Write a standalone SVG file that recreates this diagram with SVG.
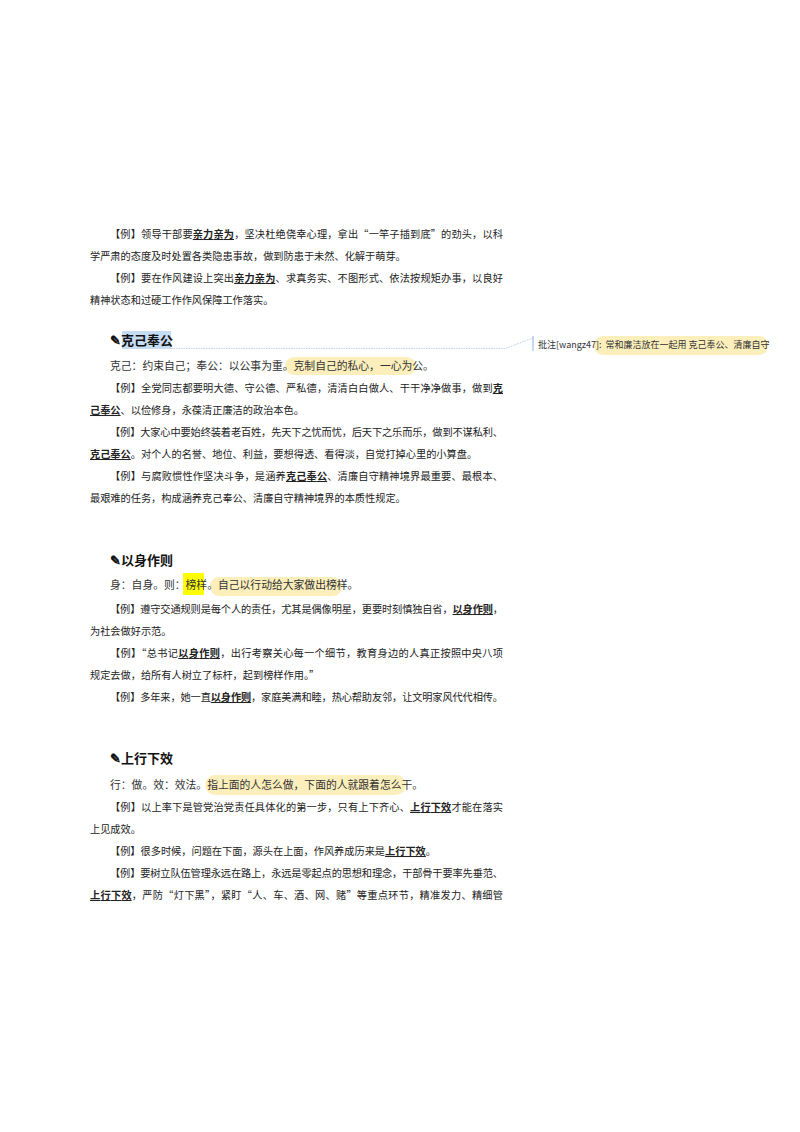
<svg xmlns="http://www.w3.org/2000/svg" width="800" height="1132" viewBox="0 0 800 1132">
<style>
.b{font-family:"Noto Sans CJK SC","Noto Sans CJK JP",sans-serif;font-size:10.2px;fill:#222}
.d{font-family:"Noto Sans CJK SC",sans-serif;font-size:10.8px;fill:#333}
.h{font-family:"Noto Sans CJK SC",sans-serif;font-size:13px;font-weight:bold;fill:#111}
.k{font-weight:bold;text-decoration:underline}
.hl{fill:#fbe9a6;opacity:0.75}
.c{font-family:"Noto Sans CJK SC",sans-serif;font-size:9px;fill:#333}
</style>
<rect width="800" height="1132" fill="#fff"/>
<g id="p1">
<text class="b" x="110" y="238" textLength="393" lengthAdjust="spacing">【例】领导干部要<tspan class="k">亲力亲为</tspan>，坚决杜绝侥幸心理，拿出“一竿子插到底”的劲头，以科</text>
<text class="b" x="90" y="260">学严肃的态度及时处置各类隐患事故，做到防患于未然、化解于萌芽。</text>
<text class="b" x="110" y="282" textLength="393" lengthAdjust="spacing">【例】要在作风建设上突出<tspan class="k">亲力亲为</tspan>、求真务实、不图形式、依法按规矩办事，以良好</text>
<text class="b" x="90" y="304">精神状态和过硬工作作风保障工作落实。</text>
</g>
<g id="s1">
<rect x="122" y="331" width="49" height="18" fill="#c6dcf3"/>
<text class="h" x="110" y="345">✎克己奉公</text>
<path d="M171 348.5 H505 L533 338" fill="none" stroke="#a9c6e6" stroke-width="0.8" stroke-dasharray="1.5,1"/>
<line x1="533" y1="336" x2="533" y2="351" stroke="#8fb2dc" stroke-width="1"/>
<rect class="hl" x="594" y="336" width="174" height="19" rx="9"/>
<text class="c" x="538" y="348">批注[wangz47]: <tspan dx="2">常和廉洁放在一起用 克己奉公、清廉自守</tspan></text>
<rect class="hl" x="285" y="357" width="131" height="18" rx="9"/>
<text class="d" x="110" y="370">克己：约束自己；奉公：以公事为重。克制自己的私心，一心为公。</text>
<text class="b" x="110" y="392" textLength="393" lengthAdjust="spacing">【例】全党同志都要明大德、守公德、严私德，清清白白做人、干干净净做事，做到<tspan class="k">克</tspan></text>
<text class="b" x="90" y="414"><tspan class="k">己奉公</tspan>、以俭修身，永葆清正廉洁的政治本色。</text>
<text class="b" x="110" y="436" textLength="393" lengthAdjust="spacing">【例】大家心中要始终装着老百姓，先天下之忧而忧，后天下之乐而乐，做到不谋私利、</text>
<text class="b" x="90" y="458"><tspan class="k">克己奉公</tspan>。对个人的名誉、地位、利益，要想得透、看得淡，自觉打掉心里的小算盘。</text>
<text class="b" x="110" y="480" textLength="393" lengthAdjust="spacing">【例】与腐败惯性作坚决斗争，是涵养<tspan class="k">克己奉公</tspan>、清廉自守精神境界最重要、最根本、</text>
<text class="b" x="90" y="502">最艰难的任务，构成涵养克己奉公、清廉自守精神境界的本质性规定。</text>
</g>
<g id="s2">
<text class="h" x="110" y="565">✎以身作则</text>
<rect x="183" y="573" width="21" height="22" fill="#ffff00"/>
<rect class="hl" x="210" y="577" width="132" height="19" rx="9"/>
<text class="d" x="110" y="589">身：自身。则：榜样。自己以行动给大家做出榜样。</text>
<text class="b" x="110" y="613" textLength="393" lengthAdjust="spacing">【例】遵守交通规则是每个人的责任，尤其是偶像明星，更要时刻慎独自省，<tspan class="k">以身作则</tspan>，</text>
<text class="b" x="90" y="635">为社会做好示范。</text>
<text class="b" x="110" y="657" textLength="393" lengthAdjust="spacing">【例】“总书记<tspan class="k">以身作则</tspan>，出行考察关心每一个细节，教育身边的人真正按照中央八项</text>
<text class="b" x="90" y="679">规定去做，给所有人树立了标杆，起到榜样作用。”</text>
<text class="b" x="110" y="701" textLength="393" lengthAdjust="spacing">【例】多年来，她一直<tspan class="k">以身作则</tspan>，家庭美满和睦，热心帮助友邻，让文明家风代代相传。</text>
</g>
<g id="s3">
<text class="h" x="110" y="763">✎上行下效</text>
<rect class="hl" x="205" y="775" width="201" height="20" rx="10"/>
<text class="d" x="110" y="789">行：做。效：效法。指上面的人怎么做，下面的人就跟着怎么干。</text>
<text class="b" x="110" y="811" textLength="393" lengthAdjust="spacing">【例】以上率下是管党治党责任具体化的第一步，只有上下齐心、<tspan class="k">上行下效</tspan>才能在落实</text>
<text class="b" x="90" y="833">上见成效。</text>
<text class="b" x="110" y="855">【例】很多时候，问题在下面，源头在上面，作风养成历来是<tspan class="k">上行下效</tspan>。</text>
<text class="b" x="110" y="877" textLength="393" lengthAdjust="spacing">【例】要树立队伍管理永远在路上，永远是零起点的思想和理念，干部骨干要率先垂范、</text>
<text class="b" x="90" y="899" textLength="413" lengthAdjust="spacing"><tspan class="k">上行下效</tspan>，严防“灯下黑”，紧盯“人、车、酒、网、赌”等重点环节，精准发力、精细管</text>
</g>
</svg>
